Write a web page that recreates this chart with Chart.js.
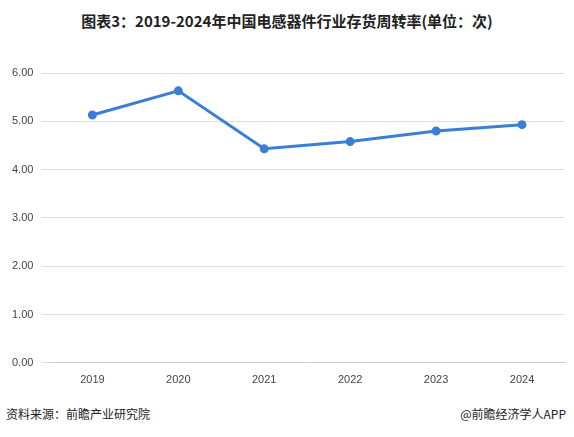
<!DOCTYPE html>
<html><head><meta charset="utf-8">
<script src="https://cdn.jsdelivr.net/npm/chart.js@4"></script>
<style>
body{margin:0;background:#fff;font-family:"Noto Sans CJK SC",sans-serif;}
#wrap{position:relative;width:574px;height:437px;}
#title{position:absolute;top:10px;left:0;width:574px;text-align:center;font-weight:bold;font-size:15px;color:#222;}
#box{position:absolute;left:0;top:57px;width:572px;height:333px;}
#src{position:absolute;left:6px;top:405px;font-size:12px;color:#222;}
#app{position:absolute;right:8px;top:405px;font-size:12px;color:#222;}
</style></head><body>
<div id="wrap">
<div id="title">图表3：2019-2024年中国电感器件行业存货周转率(单位：次)</div>
<div id="box"><canvas id="c"></canvas></div>
<div id="src">资料来源：前瞻产业研究院</div>
<div id="app">@前瞻经济学人APP</div>
</div>
<script>
const years = ["2019","2020","2021","2022","2023","2024"];
const turnover = [5.13, 5.63, 4.43, 4.58, 4.80, 4.93];
const yTicks = [0, 1, 2, 3, 4, 5, 6];

new Chart(document.getElementById("c"), {
  type: "line",
  data: {
    labels: years,
    datasets: [{
      data: turnover,
      borderColor: "#3a7fd5",
      backgroundColor: "#3a7fd5",
      borderWidth: 3,
      pointRadius: 3,
      tension: 0
    }]
  },
  options: {
    responsive: true,
    maintainAspectRatio: false,
    animation: false,
    plugins: { legend: { display: false }, tooltip: { enabled: false } },
    layout: { padding: { left: 4, right: 6, top: 16 } },
    scales: {
      x: {
        offset: true,
        grid: { display: false },
        border: { color: "#ccc" },
        ticks: { color: "#444", font: { size: 11 } }
      },
      y: {
        min: 0, max: 6,
        afterBuildTicks: ax => { ax.ticks = yTicks.map(v => ({ value: v })); },
        grid: { color: "#ddd" },
        border: { display: false },
        ticks: { color: "#444", font: { size: 11 }, callback: v => v.toFixed(2), padding: 8 }
      }
    }
  }
});
</script>
</body></html>
